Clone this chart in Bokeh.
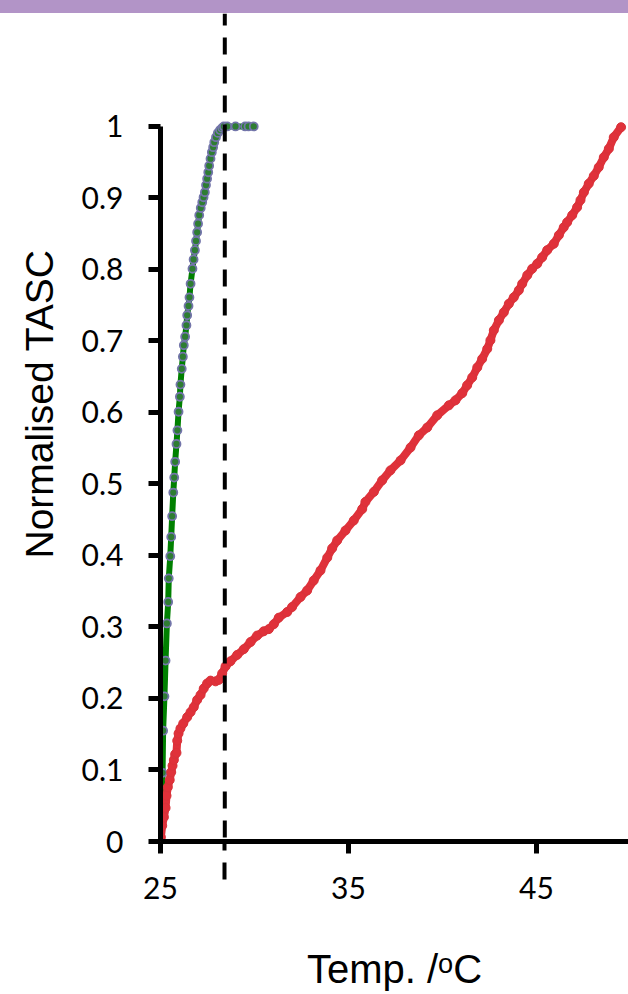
from bokeh.plotting import figure
from bokeh.models import FixedTicker, Span, Range1d, Title, Div
from bokeh.layouts import column
from bokeh.embed import file_html
from bokeh.resources import INLINE

# ---------------- data ----------------
green_x = [25.00, 25.04, 25.11, 25.14, 25.21, 25.27, 25.34, 25.41, 25.44, 25.52,
           25.57, 25.62, 25.68, 25.73, 25.78, 25.85, 25.90, 25.96, 26.03, 26.06,
           26.13, 26.19, 26.24, 26.31, 26.38, 26.42, 26.49, 26.54, 26.60, 26.70,
           26.76, 26.83, 26.89, 26.95, 27.00, 27.06, 27.14, 27.22, 27.29, 27.36,
           27.42, 27.48, 27.54, 27.59, 27.66, 27.73, 27.80, 27.86, 27.95, 28.05,
           28.17, 28.28, 28.37, 28.55, 28.99, 29.50, 29.68, 29.96]
green_y = [0.000, 0.036, 0.096, 0.155, 0.203, 0.253, 0.305, 0.335, 0.368, 0.399,
           0.426, 0.455, 0.488, 0.509, 0.531, 0.556, 0.575, 0.601, 0.622, 0.639,
           0.661, 0.678, 0.694, 0.706, 0.722, 0.736, 0.749, 0.761, 0.780, 0.801,
           0.814, 0.827, 0.840, 0.852, 0.864, 0.876, 0.886, 0.894, 0.901, 0.908,
           0.918, 0.927, 0.936, 0.945, 0.955, 0.964, 0.971, 0.978, 0.985, 0.991,
           0.995, 0.998, 1.000, 1.000, 1.000, 1.000, 1.000, 1.000]

red_x = [25.00, 25.02, 25.09, 25.18, 25.27, 25.32, 25.39, 25.49, 25.57, 25.64,
         25.71, 25.78, 25.85, 25.89, 25.96, 26.06, 26.21, 26.42, 26.60, 26.77,
         26.95, 27.13, 27.30, 27.48, 27.66, 27.93, 28.10, 28.28, 28.46, 28.72,
         29.08, 29.43, 29.79, 30.14, 30.49, 30.76, 31.03, 31.29, 31.74, 32.00,
         32.45, 32.80, 33.15, 33.51, 33.87, 34.13, 34.40, 34.84, 35.28, 35.73,
         35.90, 36.35, 36.79, 37.23, 37.77, 38.30, 38.74, 39.19, 39.72, 40.34,
         40.69, 41.05, 41.31, 41.58, 41.85, 42.11, 42.38, 42.55, 42.73, 43.00,
         43.26, 43.53, 43.79, 44.06, 44.24, 44.51, 44.77, 45.04, 45.30, 45.57,
         45.92, 46.19, 46.45, 46.63, 46.90, 47.16, 47.34, 47.52, 47.78, 48.05,
         48.31, 48.58, 48.85, 49.11, 49.50]
red_y = [0.000, 0.006, 0.022, 0.034, 0.047, 0.064, 0.076, 0.086, 0.097, 0.106,
         0.114, 0.122, 0.124, 0.141, 0.151, 0.158, 0.165, 0.174, 0.181, 0.188,
         0.198, 0.205, 0.214, 0.221, 0.225, 0.224, 0.226, 0.235, 0.245, 0.252,
         0.261, 0.269, 0.279, 0.288, 0.294, 0.297, 0.304, 0.313, 0.321, 0.328,
         0.342, 0.351, 0.365, 0.379, 0.397, 0.410, 0.421, 0.435, 0.449, 0.465,
         0.475, 0.489, 0.505, 0.519, 0.533, 0.551, 0.568, 0.579, 0.596, 0.610,
         0.617, 0.627, 0.638, 0.649, 0.663, 0.675, 0.689, 0.701, 0.715, 0.729,
         0.740, 0.752, 0.761, 0.771, 0.780, 0.792, 0.801, 0.808, 0.817, 0.827,
         0.836, 0.848, 0.859, 0.866, 0.876, 0.887, 0.897, 0.908, 0.920, 0.931,
         0.943, 0.957, 0.969, 0.985, 0.999]

transition_temp = 28.42

x_ticks = [25, 35, 45]
y_ticks = [0, 0.1, 0.2, 0.3, 0.4, 0.5, 0.6, 0.7, 0.8, 0.9, 1]
y_tick_labels = ["0", "0.1", "0.2", "0.3", "0.4", "0.5", "0.6", "0.7", "0.8", "0.9", "1"]

x_title = "Temp. /\u1d52C"
y_title = "Normalised TASC"

# ---------------- layout ----------------
band = Div(text="", width=628, height=13, margin=(0, 0, 0, 0),
           styles={"background-color": "#b294c7"})

p = figure(width=628, height=981,
           x_range=Range1d(25, 49.894), y_range=Range1d(0, 1.158),
           output_backend="svg", toolbar_location=None,
           min_border_left=160, min_border_right=0,
           min_border_top=0, min_border_bottom=153)
p.outline_line_color = None
p.xgrid.visible = False
p.ygrid.visible = False
p.background_fill_color = "white"
p.border_fill_color = "white"

# data
p.line(green_x, green_y, line_color="#008000", line_width=6)
p.scatter(green_x, green_y, size=8, fill_color="#2e7d32",
          line_color="#7375aa", line_width=1.8)
p.line(red_x, red_y, line_color="#e0313a", line_width=8)
p.scatter(red_x, red_y, size=9, fill_color="#e0313a",
          line_color="#d8333a", line_width=1)

vline = Span(location=transition_temp, dimension="height",
             line_color="black", line_width=4, line_dash="17 12",
             line_dash_offset=5)
p.add_layout(vline)

# axes
for ax in (p.xaxis[0], p.yaxis[0]):
    ax.axis_line_width = 5
    ax.axis_line_color = "black"
    ax.major_tick_line_width = 5
    ax.major_tick_line_color = "black"
    ax.major_tick_out = 12
    ax.major_tick_in = 0
    ax.major_label_text_font = "Lato"
    ax.major_label_text_font_size = "30px"
    ax.major_label_text_color = "black"
    ax.axis_label_text_font = "Liberation Sans"
    ax.axis_label_text_font_size = "40px"
    ax.axis_label_text_font_style = "normal"
    ax.axis_label_text_color = "black"

# x axis: the dashed marker line continues below the axis as a minor tick
p.xaxis.ticker = FixedTicker(ticks=x_ticks, minor_ticks=[transition_temp])
p.xaxis.minor_tick_in = 0
p.xaxis.minor_tick_out = 49
p.xaxis.minor_tick_line_color = "black"
p.xaxis.minor_tick_line_width = 4
p.xaxis.minor_tick_line_dash = "17 12"
p.xaxis.minor_tick_line_dash_offset = 18
p.xaxis.major_label_standoff = -14
p.xaxis.axis_label = x_title
p.xaxis.axis_label_standoff = 45

p.yaxis.ticker = FixedTicker(ticks=y_ticks)
p.yaxis.minor_tick_line_color = None
p.yaxis.bounds = (0, 1)
p.yaxis.major_label_overrides = {t: s for t, s in zip(y_ticks, y_tick_labels)}
p.yaxis.major_label_standoff = 25

ytitle = Title(text=y_title, align="left", vertical_align="top",
               offset=283, standoff=31,
               text_font="Liberation Sans", text_font_size="39px",
               text_font_style="normal", text_color="black")
p.add_layout(ytitle, "left")

layout = column(band, p, spacing=0)
open("out.html", "w").write(file_html(layout, INLINE))
